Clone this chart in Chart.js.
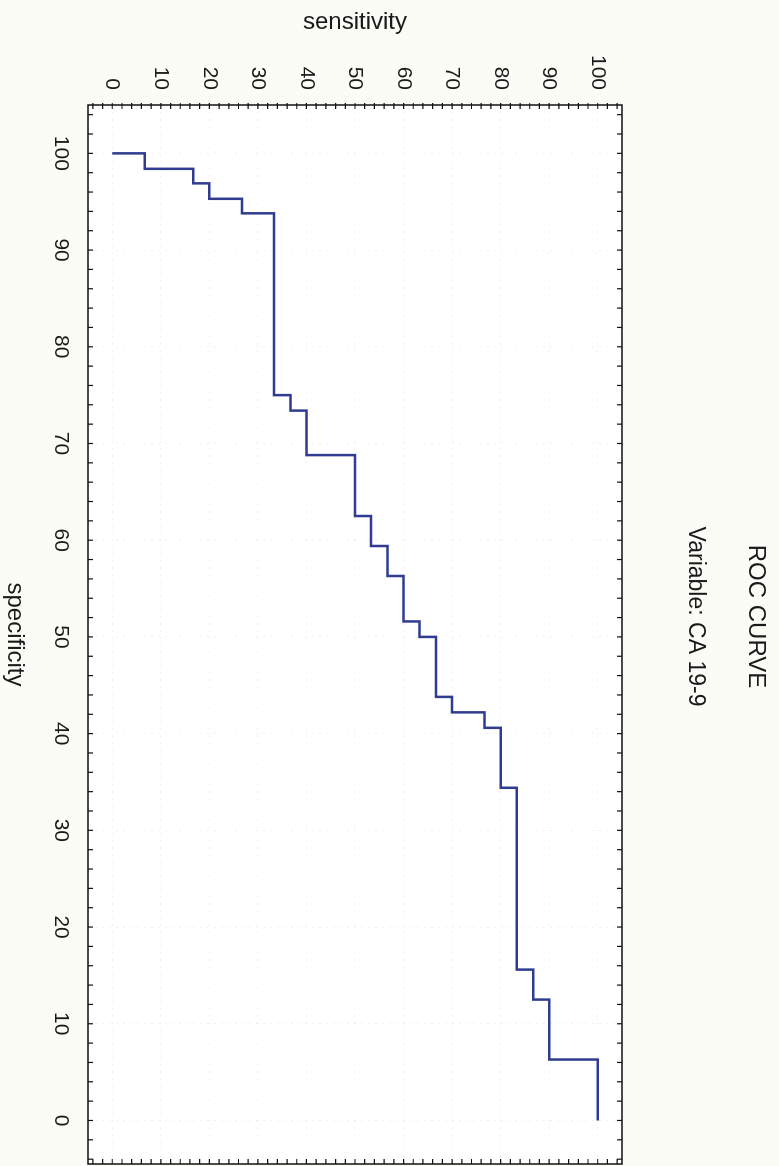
<!DOCTYPE html>
<html lang="en">
<head>
    <meta charset="UTF-8" />
    <title>ROC CURVE - CA 19-9</title>
    <script src="https://cdn.jsdelivr.net/npm/chart.js"></script>
    <style>
        html, body { margin: 0; padding: 0; background: #fcfcf6; overflow: hidden; }
        body { width: 779px; height: 1166px; position: relative; }
        /* the chart is drawn landscape and turned a quarter clockwise, like the scan */
        #wrap { position: absolute; left: 0; top: 0; width: 1166px; height: 779px;
                transform-origin: 0 0; transform: translate(779px, 0) rotate(90deg); }
    </style>
</head>
<body>
    <div id="wrap"><canvas id="rocChart" width="1166" height="779"></canvas></div>

    <script>
        // Data
        const specificity = [100, 100, 98.4, 96.9, 95.3, 93.8, 75.0, 73.4, 68.8, 62.5, 59.4, 56.3, 51.6, 50.0, 43.8, 42.2, 40.6, 34.4, 15.6, 12.5, 6.3, 0];
        const sensitivity = [0, 6.7, 16.7, 20.0, 26.7, 33.3, 36.7, 40.0, 50.0, 53.3, 56.7, 60.0, 63.3, 66.7, 70.0, 76.7, 80.0, 83.3, 86.7, 90.0, 100, 100];
        const specTicks = [100, 90, 80, 70, 60, 50, 40, 30, 20, 10, 0];
        const sensTicks = [0, 10, 20, 30, 40, 50, 60, 70, 80, 90, 100];
        const titleText = 'ROC CURVE';
        const subtitleText = 'Variable: CA 19-9';

        const FONT = "'Liberation Sans', Arial, sans-serif";
        const INK = '#1a1a1a';

        // page colours + frame with small inward ticks every 2 units
        const framePlugin = {
            id: 'frame',
            beforeDraw(chart) {
                const { ctx, chartArea: a } = chart;
                ctx.save();
                ctx.fillStyle = '#fcfcf6';
                ctx.fillRect(0, 0, chart.width, chart.height);
                ctx.fillStyle = '#ffffff';
                ctx.fillRect(a.left, a.top, a.right - a.left, a.bottom - a.top);
                ctx.restore();
            },
            afterDraw(chart) {
                const { ctx, chartArea: a, scales } = chart;
                ctx.save();
                ctx.strokeStyle = '#111';
                ctx.lineWidth = 1.5;
                ctx.strokeRect(a.left, a.top, a.right - a.left, a.bottom - a.top);
                ctx.lineWidth = 1.2;
                ctx.beginPath();
                for (let v = -4; v <= 104; v += 2) {
                    const px = scales.x.getPixelForValue(v);
                    if (px > a.left && px < a.right) {
                        ctx.moveTo(px, a.bottom); ctx.lineTo(px, a.bottom - 5);
                        ctx.moveTo(px, a.top); ctx.lineTo(px, a.top + 5);
                    }
                    const py = scales.y.getPixelForValue(v);
                    if (py > a.top && py < a.bottom) {
                        ctx.moveTo(a.left - 2, py); ctx.lineTo(a.left + 4, py);
                        ctx.moveTo(a.right, py); ctx.lineTo(a.right - 5, py);
                    }
                }
                ctx.stroke();

                // titles
                const cx = (a.left + a.right) / 2 - 18;
                ctx.fillStyle = INK;
                ctx.textAlign = 'center';
                ctx.textBaseline = 'middle';
                ctx.font = '24px ' + FONT;
                ctx.fillText(titleText, cx, 23);
                ctx.font = '23px ' + FONT;
                ctx.fillText(subtitleText, cx, 84);
                ctx.restore();
            }
        };

        const ctx = document.getElementById('rocChart').getContext('2d');
        new Chart(ctx, {
            type: 'line',
            data: {
                datasets: [{
                    label: 'CA 19-9',
                    data: specificity.map((s, i) => ({ x: s, y: sensitivity[i] })),
                    stepped: true,
                    borderColor: '#2f3c8f',
                    borderWidth: 2.5,
                    pointRadius: 0,
                    fill: false
                }]
            },
            options: {
                responsive: false,
                animation: false,
                devicePixelRatio: 1,
                layout: { padding: { top: 157, right: 2, bottom: 0, left: 0 } },
                plugins: { legend: { display: false }, tooltip: { enabled: false } },
                scales: {
                    x: {
                        type: 'linear',
                        position: 'bottom',
                        reverse: true,
                        min: -4.5,
                        max: 105,
                        afterBuildTicks: s => { s.ticks = specTicks.map(v => ({ value: v })); },
                        afterFit: s => { s.height = 88; },
                        grid: { color: 'rgba(0,0,0,0.05)', drawTicks: false },
                        border: { display: false, dash: [2, 5] },
                        ticks: { padding: 15, color: INK, font: { family: FONT, size: 21 } },
                        title: { display: true, text: 'specificity', color: INK,
                                 font: { family: FONT, size: 24 }, padding: { top: 0, bottom: 0 } }
                    },
                    y: {
                        type: 'linear',
                        position: 'left',
                        min: -5,
                        max: 105,
                        afterBuildTicks: s => { s.ticks = sensTicks.map(v => ({ value: v })); },
                        afterFit: s => { s.width = 105; },
                        grid: { color: 'rgba(0,0,0,0.05)', drawTicks: false },
                        border: { display: false, dash: [2, 5] },
                        ticks: { padding: 15, color: INK, font: { family: FONT, size: 21 } },
                        title: { display: true, text: 'sensitivity', color: INK,
                                 font: { family: FONT, size: 24 }, padding: { top: 8, bottom: 0 } }
                    }
                }
            },
            plugins: [framePlugin]
        });
    </script>
</body>
</html>
